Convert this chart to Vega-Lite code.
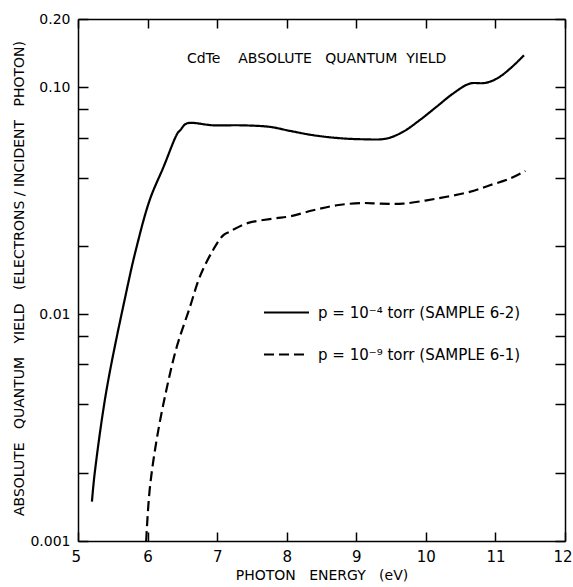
{
  "$schema": "https://vega.github.io/schema/vega-lite/v6.json",
  "width": 487,
  "height": 522,
  "autosize": {"type": "none"},
  "padding": {"left": 78, "top": 19, "right": 8, "bottom": 46},
  "background": "white",
  "config": {
    "view": {"stroke": null},
    "font": "DejaVu Sans",
    "axis": {"grid": false, "domainColor": "black", "domainWidth": 1.5, "tickColor": "black", "tickWidth": 1.5, "labelColor": "black", "titleColor": "black", "labelFont": "DejaVu Sans", "titleFont": "DejaVu Sans", "titleFontWeight": "normal"}
  },
  "datasets": {
    "curves": [
      {"E": 5.20, "Y": 0.00149, "series": "p = 10⁻⁴ torr (SAMPLE 6-2)"},
      {"E": 5.24, "Y": 0.00199, "series": "p = 10⁻⁴ torr (SAMPLE 6-2)"},
      {"E": 5.41, "Y": 0.00463, "series": "p = 10⁻⁴ torr (SAMPLE 6-2)"},
      {"E": 5.70, "Y": 0.01276, "series": "p = 10⁻⁴ torr (SAMPLE 6-2)"},
      {"E": 5.83, "Y": 0.0191, "series": "p = 10⁻⁴ torr (SAMPLE 6-2)"},
      {"E": 6.03, "Y": 0.0318, "series": "p = 10⁻⁴ torr (SAMPLE 6-2)"},
      {"E": 6.23, "Y": 0.0446, "series": "p = 10⁻⁴ torr (SAMPLE 6-2)"},
      {"E": 6.43, "Y": 0.0627, "series": "p = 10⁻⁴ torr (SAMPLE 6-2)"},
      {"E": 6.47, "Y": 0.0647, "series": "p = 10⁻⁴ torr (SAMPLE 6-2)"},
      {"E": 6.54, "Y": 0.0687, "series": "p = 10⁻⁴ torr (SAMPLE 6-2)"},
      {"E": 6.61, "Y": 0.0697, "series": "p = 10⁻⁴ torr (SAMPLE 6-2)"},
      {"E": 6.94, "Y": 0.0680, "series": "p = 10⁻⁴ torr (SAMPLE 6-2)"},
      {"E": 7.33, "Y": 0.0680, "series": "p = 10⁻⁴ torr (SAMPLE 6-2)"},
      {"E": 7.76, "Y": 0.0669, "series": "p = 10⁻⁴ torr (SAMPLE 6-2)"},
      {"E": 8.05, "Y": 0.0642, "series": "p = 10⁻⁴ torr (SAMPLE 6-2)"},
      {"E": 8.38, "Y": 0.0615, "series": "p = 10⁻⁴ torr (SAMPLE 6-2)"},
      {"E": 8.72, "Y": 0.0598, "series": "p = 10⁻⁴ torr (SAMPLE 6-2)"},
      {"E": 9.10, "Y": 0.0590, "series": "p = 10⁻⁴ torr (SAMPLE 6-2)"},
      {"E": 9.43, "Y": 0.0594, "series": "p = 10⁻⁴ torr (SAMPLE 6-2)"},
      {"E": 9.67, "Y": 0.0636, "series": "p = 10⁻⁴ torr (SAMPLE 6-2)"},
      {"E": 9.91, "Y": 0.0716, "series": "p = 10⁻⁴ torr (SAMPLE 6-2)"},
      {"E": 10.15, "Y": 0.0819, "series": "p = 10⁻⁴ torr (SAMPLE 6-2)"},
      {"E": 10.39, "Y": 0.0938, "series": "p = 10⁻⁴ torr (SAMPLE 6-2)"},
      {"E": 10.63, "Y": 0.1038, "series": "p = 10⁻⁴ torr (SAMPLE 6-2)"},
      {"E": 10.85, "Y": 0.1045, "series": "p = 10⁻⁴ torr (SAMPLE 6-2)"},
      {"E": 11.02, "Y": 0.1092, "series": "p = 10⁻⁴ torr (SAMPLE 6-2)"},
      {"E": 11.21, "Y": 0.1208, "series": "p = 10⁻⁴ torr (SAMPLE 6-2)"},
      {"E": 11.41, "Y": 0.1383, "series": "p = 10⁻⁴ torr (SAMPLE 6-2)"},
      {"E": 5.98, "Y": 0.00100, "series": "p = 10⁻⁹ torr (SAMPLE 6-1)"},
      {"E": 6.03, "Y": 0.00168, "series": "p = 10⁻⁹ torr (SAMPLE 6-1)"},
      {"E": 6.13, "Y": 0.00279, "series": "p = 10⁻⁹ torr (SAMPLE 6-1)"},
      {"E": 6.27, "Y": 0.00463, "series": "p = 10⁻⁹ torr (SAMPLE 6-1)"},
      {"E": 6.42, "Y": 0.00718, "series": "p = 10⁻⁹ torr (SAMPLE 6-1)"},
      {"E": 6.61, "Y": 0.01077, "series": "p = 10⁻⁹ torr (SAMPLE 6-1)"},
      {"E": 6.75, "Y": 0.01459, "series": "p = 10⁻⁹ torr (SAMPLE 6-1)"},
      {"E": 6.94, "Y": 0.01914, "series": "p = 10⁻⁹ torr (SAMPLE 6-1)"},
      {"E": 7.09, "Y": 0.0223, "series": "p = 10⁻⁹ torr (SAMPLE 6-1)"},
      {"E": 7.18, "Y": 0.0231, "series": "p = 10⁻⁹ torr (SAMPLE 6-1)"},
      {"E": 7.42, "Y": 0.0251, "series": "p = 10⁻⁹ torr (SAMPLE 6-1)"},
      {"E": 7.81, "Y": 0.0264, "series": "p = 10⁻⁹ torr (SAMPLE 6-1)"},
      {"E": 8.05, "Y": 0.0270, "series": "p = 10⁻⁹ torr (SAMPLE 6-1)"},
      {"E": 8.38, "Y": 0.0287, "series": "p = 10⁻⁹ torr (SAMPLE 6-1)"},
      {"E": 8.72, "Y": 0.0302, "series": "p = 10⁻⁹ torr (SAMPLE 6-1)"},
      {"E": 9.10, "Y": 0.0309, "series": "p = 10⁻⁹ torr (SAMPLE 6-1)"},
      {"E": 9.34, "Y": 0.0307, "series": "p = 10⁻⁹ torr (SAMPLE 6-1)"},
      {"E": 9.67, "Y": 0.0307, "series": "p = 10⁻⁹ torr (SAMPLE 6-1)"},
      {"E": 10.15, "Y": 0.0323, "series": "p = 10⁻⁹ torr (SAMPLE 6-1)"},
      {"E": 10.63, "Y": 0.0346, "series": "p = 10⁻⁹ torr (SAMPLE 6-1)"},
      {"E": 10.92, "Y": 0.0370, "series": "p = 10⁻⁹ torr (SAMPLE 6-1)"},
      {"E": 11.21, "Y": 0.0396, "series": "p = 10⁻⁹ torr (SAMPLE 6-1)"},
      {"E": 11.43, "Y": 0.0428, "series": "p = 10⁻⁹ torr (SAMPLE 6-1)"}
    ],
    "heading": [
      {"E": 8.43, "Y": 0.1334, "label": "CdTe\u00a0\u00a0\u00a0\u00a0ABSOLUTE\u00a0\u00a0\u00a0QUANTUM\u00a0\u00a0YIELD"}
    ]
  },
  "layer": [
    {
      "data": {"name": "curves"},
      "mark": {"type": "line", "color": "black", "strokeWidth": 2.2, "interpolate": "catmull-rom", "clip": true},
      "encoding": {
        "x": {
          "field": "E", "type": "quantitative",
          "scale": {"domain": [5, 12], "nice": false, "zero": false},
          "axis": {"orient": "bottom", "values": [5, 6, 7, 8, 9, 10, 11, 12], "tickSize": -9, "labelPadding": 17, "labelFontSize": 15, "labelFlush": true, "labelFlushOffset": 7, "labelOverlap": false, "title": "PHOTON\u00a0\u00a0\u00a0ENERGY\u00a0\u00a0\u00a0(eV)", "titleFontSize": 14, "titlePadding": 4}
        },
        "y": {
          "field": "Y", "type": "quantitative",
          "scale": {"type": "log", "domain": [0.001, 0.2], "nice": false},
          "axis": {
            "orient": "left",
            "values": [0.001, 0.002, 0.004, 0.006, 0.008, 0.01, 0.02, 0.04, 0.06, 0.08, 0.1, 0.2],
            "labelExpr": "datum.value == 0.2 ? '0.20' : datum.value == 0.1 ? '0.10' : datum.value == 0.01 ? '0.01' : datum.value == 0.001 ? '0.001' : ''",
            "tickSize": -10, "labelPadding": 18, "labelFontSize": 14, "labelFlush": false, "labelOverlap": false, "labelBound": false,
            "title": "ABSOLUTE\u00a0\u00a0\u00a0QUANTUM\u00a0\u00a0\u00a0YIELD\u00a0\u00a0\u00a0(ELECTRONS / INCIDENT\u00a0\u00a0\u00a0PHOTON)",
            "titleFontSize": 14, "titleX": -59, "titleY": 259, "titleBaseline": "middle"
          }
        },
        "strokeDash": {
          "field": "series", "type": "nominal",
          "scale": {"domain": ["p = 10⁻⁴ torr (SAMPLE 6-2)", "p = 10⁻⁹ torr (SAMPLE 6-1)"], "range": [[1, 0], [10, 5]]},
          "legend": {"orient": "none", "legendX": 185, "legendY": 270, "title": null, "symbolType": "stroke", "symbolStrokeColor": "black", "symbolStrokeWidth": 2, "symbolSize": 2025, "labelFontSize": 15, "labelOffset": 8, "rowPadding": 10, "labelColor": "black", "labelFont": "DejaVu Sans", "labelLimit": 400}
        }
      }
    },
    {
      "data": {"name": "heading"},
      "mark": {"type": "text", "fontSize": 14, "color": "black", "font": "DejaVu Sans"},
      "encoding": {
        "x": {"field": "E", "type": "quantitative", "axis": {"orient": "top", "values": [5, 6, 7, 8, 9, 10, 11, 12], "tickSize": -9, "labels": false, "title": null}},
        "y": {"field": "Y", "type": "quantitative", "axis": {"orient": "right", "values": [0.001, 0.002, 0.004, 0.006, 0.008, 0.01, 0.02, 0.04, 0.06, 0.08, 0.1, 0.2], "tickSize": -10, "labels": false, "title": null}},
        "text": {"field": "label"}
      }
    }
  ],
  "resolve": {"axis": {"x": "independent", "y": "independent"}}
}
